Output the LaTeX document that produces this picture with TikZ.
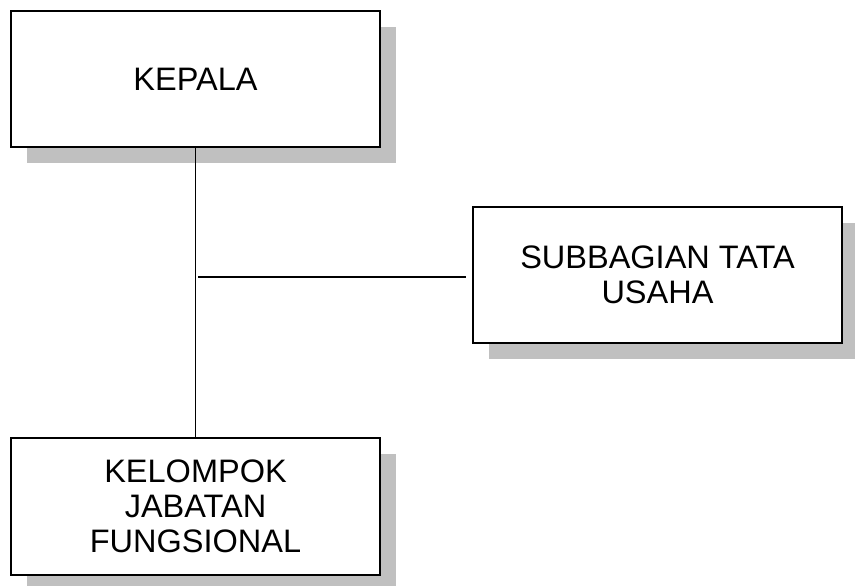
\documentclass[tikz,border=0pt]{standalone}
\usepackage{fontspec}
\setmainfont{Liberation Sans}
\usetikzlibrary{shadows}
\definecolor{shadowgray}{HTML}{C0C0C0}
\begin{document}
\begin{tikzpicture}[x=1pt,y=-1pt,
  orgbox/.style={draw=black, line width=1.6pt, fill=white, minimum width=369pt, minimum height=136pt,
    align=center, inner sep=0pt,
    font=\fontsize{32.5}{35}\selectfont,
    drop shadow={shadow xshift=16pt, shadow yshift=-16pt, fill=shadowgray, opacity=1, draw=none}},
  link/.style={draw=black, line width=1.6pt}]
\useasboundingbox (0,0) rectangle (855,586);
\node[orgbox] (kepala) at (195.5,79) {KEPALA};
\node[orgbox] (sub) at (657.5,275) {SUBBAGIAN TATA\\USAHA};
\node[orgbox, minimum height=137pt] (kel) at (195.5,506.5) {KELOMPOK\\JABATAN\\FUNGSIONAL};
\coordinate (hl) at (198,277);
\draw[link] (kepala.south) -- (kel.north);
\draw[link] (hl) -- ([xshift=-6pt]sub.west |- hl);
\end{tikzpicture}
\end{document}
